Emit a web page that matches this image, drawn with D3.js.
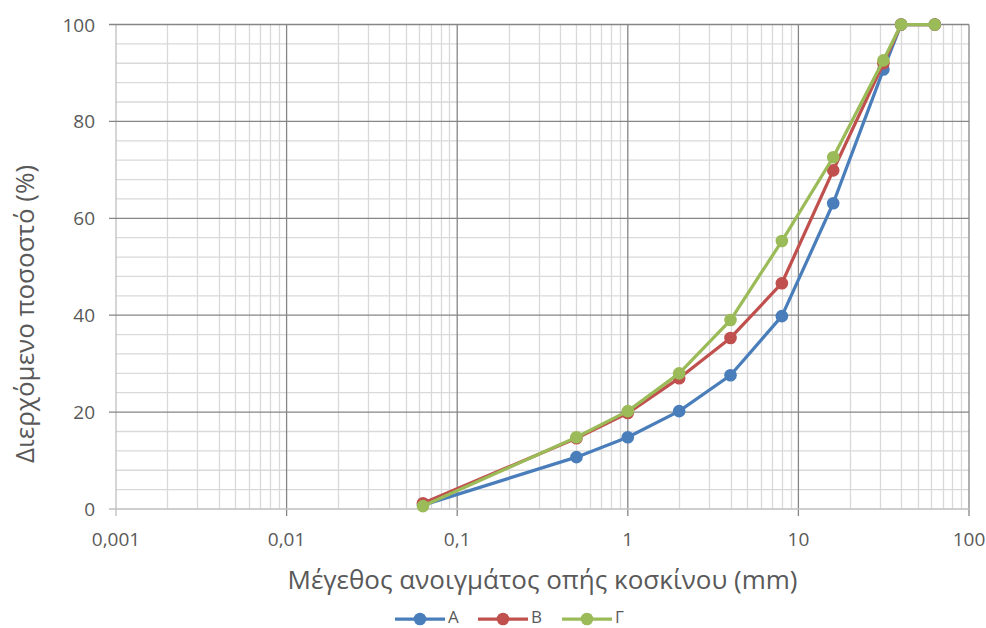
<!DOCTYPE html>
<html>
<head>
<meta charset="utf-8">
<script src="https://cdn.jsdelivr.net/npm/d3@7"></script>
<style>
  body { margin: 0; background: #fff; }
  svg text { font-family: "Open Sans", "Liberation Sans", sans-serif; fill: #595959; }
</style>
</head>
<body>
<div class="canvas"></div>
<script>
// sieve sizes (mm)
const sizes = [0.063, 0.5, 1, 2, 4, 8, 16, 31.5, 40, 63]

const seriesA = [0.8, 10.7, 14.8, 20.2, 27.6, 39.8, 63.1, 90.7, 100, 100]
const seriesB = [1.2, 14.6, 19.8, 27.0, 35.3, 46.6, 69.9, 92.0, 100, 100]
const seriesG = [0.6, 14.8, 20.2, 28.0, 39.0, 55.3, 72.6, 92.6, 100, 100]

const seriesNames = ['Α', 'Β', 'Γ']
const seriesColors = ['#4a7ebb', '#c0504d', '#9bbb59']

const xTicks = [0.001, 0.01, 0.1, 1, 10, 100]
const xTickLabels = ['0,001', '0,01', '0,1', '1', '10', '100']
const yTicks = [0, 20, 40, 60, 80, 100]

const xTitle = 'Μέγεθος ανοιγμάτος οπής κοσκίνου (mm)'
const yTitle = 'Διερχόμενο ποσοστό (%)'

const dims = { width: 986, height: 628 }
const plot = { left: 116, right: 969, top: 24.5, bottom: 509 }

const svg = d3.select('.canvas')
    .append('svg')
    .attr('width', dims.width)
    .attr('height', dims.height)

const x = d3.scaleLog()
    .domain([0.001, 100])
    .range([plot.left, plot.right])

const y = d3.scaleLinear()
    .domain([0, 100])
    .range([plot.bottom, plot.top])

// minor grid
const minorX = []
for (let e = -3; e < 2; e++) {
    for (let k = 2; k <= 9; k++) minorX.push(k * Math.pow(10, e))
}
const minorY = d3.range(0, 101, 4).filter(v => v % 20 !== 0)

const grid = svg.append('g')

grid.selectAll('.minx')
    .data(minorX)
    .enter().append('line')
    .attr('x1', d => Math.round(x(d)) + 0.5)
    .attr('x2', d => Math.round(x(d)) + 0.5)
    .attr('y1', plot.top)
    .attr('y2', plot.bottom)
    .attr('stroke', '#d9d9d9')
    .attr('stroke-width', 1.3)

grid.selectAll('.miny')
    .data(minorY)
    .enter().append('line')
    .attr('x1', plot.left)
    .attr('x2', plot.right)
    .attr('y1', d => y(d))
    .attr('y2', d => y(d))
    .attr('stroke', '#d9d9d9')
    .attr('stroke-width', 1.3)

// major grid
grid.selectAll('.majx')
    .data(xTicks)
    .enter().append('line')
    .attr('x1', d => x(d))
    .attr('x2', d => x(d))
    .attr('y1', plot.top)
    .attr('y2', plot.bottom + 7)
    .attr('stroke', d => d === 0.001 ? '#bfbfbf' : '#868686')
    .attr('stroke-width', 1.3)

grid.selectAll('.majy')
    .data(yTicks)
    .enter().append('line')
    .attr('x1', plot.left - 7)
    .attr('x2', plot.right)
    .attr('y1', d => y(d))
    .attr('y2', d => y(d))
    .attr('stroke', d => d === 0 ? '#bfbfbf' : '#868686')
    .attr('stroke-width', 1.3)

// tick labels
svg.selectAll('.xlab')
    .data(xTicks)
    .enter().append('text')
    .attr('x', d => x(d))
    .attr('y', plot.bottom + 37)
    .attr('text-anchor', 'middle')
    .attr('font-size', 19)
    .text((d, i) => xTickLabels[i])

svg.selectAll('.ylab')
    .data(yTicks)
    .enter().append('text')
    .attr('x', plot.left - 21)
    .attr('y', d => y(d) + 7)
    .attr('text-anchor', 'end')
    .attr('font-size', 19)
    .text(d => d)

// axis titles
svg.append('text')
    .attr('x', (plot.left + plot.right) / 2)
    .attr('y', 589)
    .attr('text-anchor', 'middle')
    .attr('font-size', 26)
    .text(xTitle)

svg.append('text')
    .attr('transform', 'translate(34, 314) rotate(-90)')
    .attr('text-anchor', 'middle')
    .attr('font-size', 26)
    .text(yTitle)

// series
const allSeries = [seriesA, seriesB, seriesG]
const line = d3.line()
    .x(d => x(d[0]))
    .y(d => y(d[1]))

allSeries.forEach((vals, i) => {
    const pts = sizes.map((s, j) => [s, vals[j]])
    const g = svg.append('g')
    g.append('path')
        .attr('d', line(pts))
        .attr('fill', 'none')
        .attr('stroke', seriesColors[i])
        .attr('stroke-width', 3.25)
        .attr('stroke-linejoin', 'round')
    g.selectAll('circle')
        .data(pts)
        .enter().append('circle')
        .attr('cx', d => x(d[0]))
        .attr('cy', d => y(d[1]))
        .attr('r', 6.3)
        .attr('fill', seriesColors[i])
})

// legend
const legendX = [395, 478, 562]
const legend = svg.selectAll('.legend')
    .data(seriesNames)
    .enter().append('g')
    .attr('transform', (d, i) => `translate(${legendX[i]}, 619)`)

legend.append('line')
    .attr('x1', 0).attr('x2', 50)
    .attr('stroke', (d, i) => seriesColors[i])
    .attr('stroke-width', 3.25)
legend.append('circle')
    .attr('cx', 25)
    .attr('r', 6.3)
    .attr('fill', (d, i) => seriesColors[i])
legend.append('text')
    .attr('x', 53)
    .attr('y', 4)
    .attr('font-size', 17)
    .text(d => d)
</script>
</body>
</html>
